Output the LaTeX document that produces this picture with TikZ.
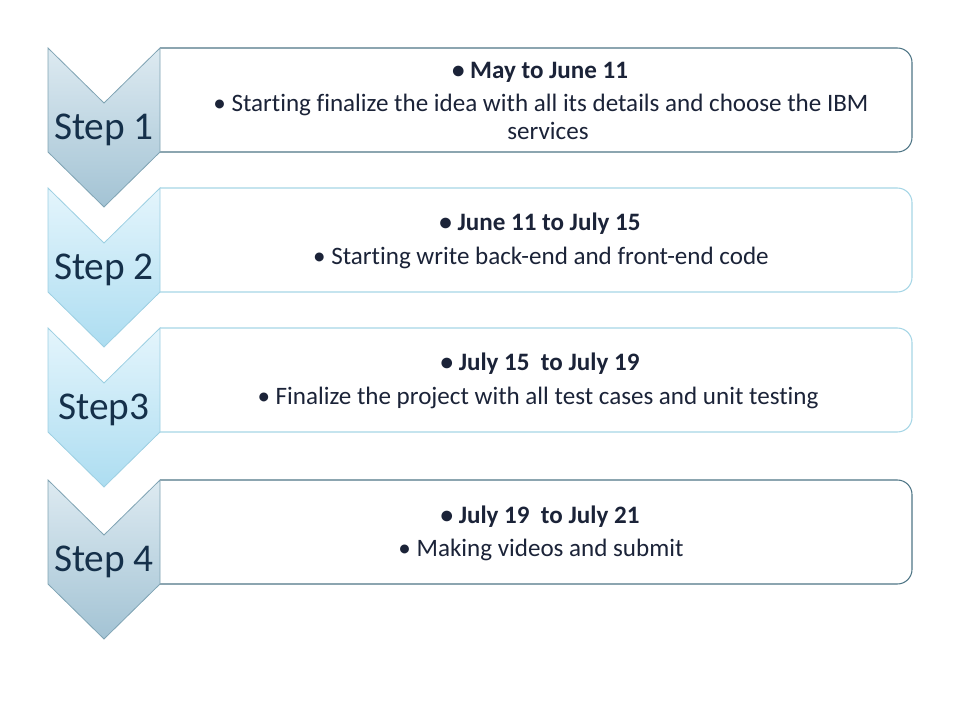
\documentclass[tikz,border=0pt]{standalone}
\usepackage{fontspec}
\setmainfont[Ligatures=NoCommon]{Carlito}
\usetikzlibrary{calc}

\definecolor{steelTop}{HTML}{DDEAF1}
\definecolor{steelBot}{HTML}{A3C3D4}
\definecolor{cyanTop}{HTML}{E4F5FC}
\definecolor{cyanBot}{HTML}{ADDDF1}
\definecolor{steelLine}{HTML}{7FA3B3}
\definecolor{cyanLine}{HTML}{9CCFE2}
\definecolor{boxDark}{HTML}{4F7686}
\definecolor{boxLight}{HTML}{A6D6E6}
\definecolor{labelInk}{HTML}{15304A}
\definecolor{bodyInk}{HTML}{1B2338}

\tikzset{
  chevron/.style={line width=0.6pt, shading=axis, shading angle=0},
  steelchev/.style={chevron, draw=steelLine, top color=steelTop, bottom color=steelBot},
  cyanchev/.style={chevron, draw=cyanLine, top color=cyanTop, bottom color=cyanBot},
  panel/.style={fill=white, line width=0.8pt, rounded corners=11pt},
  steplabel/.style={text=labelInk, font=\fontsize{29.5}{34}\selectfont, inner sep=0pt},
  datetext/.style={text=bodyInk, font=\fontsize{18.8}{22}\selectfont\bfseries, inner sep=0pt},
  bodytext/.style={text=bodyInk, font=\fontsize{18.8}{22}\selectfont, inner sep=0pt},
}

% one row: panel, then the chevron over its left edge
% #1 top y, #2 chevron style, #3 panel border colour
\newcommand{\steprow}[3]{%
  \draw[panel, draw=#3] (160,#1) -- (912,#1) -- (912,#1+104) -- (160,#1+104);
  \draw[#2] (48,#1) -- (104,#1+55) -- (160,#1) -- (160,#1+104)
            -- (104,#1+159) -- (48,#1+104) -- cycle;
}

\begin{document}
\begin{tikzpicture}[x=0.75pt, y=-0.75pt]
  \useasboundingbox (0,0) rectangle (960,720);

  \steprow{48}{steelchev}{boxDark}
  \steprow{188}{cyanchev}{boxLight}
  \steprow{328}{cyanchev}{boxLight}
  \steprow{480}{steelchev}{boxDark}

  \node[steplabel] (s1) at (104,130) {Step 1};
  \node[steplabel] (s2) at (104,270) {Step 2};
  \node[steplabel] (s3) at (104,410) {Step3};
  \node[steplabel] (s4) at (104,562) {Step 4};

  \node[datetext] (d1) at (540,72) {\textbullet\ May to June 11};
  \node[bodytext] (t1a) at (541,105) {\textbullet\ Starting finalize the idea with all its details and choose the IBM};
  \node[bodytext] (t1b) at (548,131) {services};

  \node[datetext] (d2) at (540,224) {\textbullet\ June 11 to July 15};
  \node[bodytext] (t2) at (541,258) {\textbullet\ Starting write back-end and front-end code};

  \node[datetext] (d3) at (540,364) {\textbullet\ July 15\ \ to July 19};
  \node[bodytext] (t3) at (538,398) {\textbullet\ Finalize the project with all test cases and unit testing};

  \node[datetext] (d4) at (540,517) {\textbullet\ July 19\ \ to July 21};
  \node[bodytext] (t4) at (541,550) {\textbullet\ Making videos and submit};
\end{tikzpicture}
\end{document}
